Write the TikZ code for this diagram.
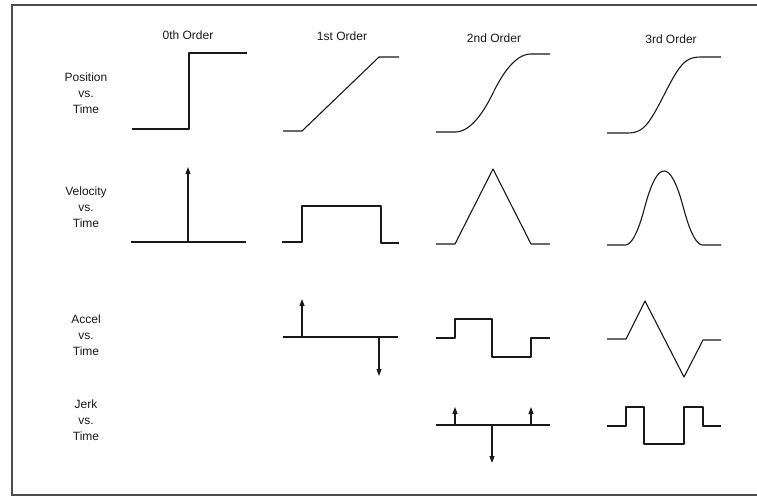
\documentclass[tikz,border=0pt]{standalone}
\usepackage{amsmath}
\usepackage{fontspec}
\setmainfont{Liberation Sans}
\usepackage{tikz}
\usetikzlibrary{arrows.meta}

\begin{document}
\begin{tikzpicture}[x=1pt,y=-1pt,
  curve/.style={line width=1.1,black!90,line join=round},
  rowlab/.style={align=center,font=\fontsize{12}{16}\selectfont,black!90},
  collab/.style={font=\fontsize{12}{14}\selectfont,black!90},
  >={Triangle[length=7,width=5]}]
\useasboundingbox (0,0) rectangle (757,499);
\draw [line width=2][black!70](757,5)--(12,5)--(12,495)--(757,495);
\node (order0) at (188,35) [collab]{0th Order};
\node (order1) at (342,36) [collab]{1st Order};
\node (order2) at (494,38) [collab]{2nd Order};
\node (order3) at (671,39) [collab]{3rd Order};
\node (pos) at (86,93) [rowlab]{Position\\vs.\\Time};
\node (vel) at (86,207) [rowlab]{Velocity\\vs.\\Time};
\node (acc) at (86,335) [rowlab]{Accel\\vs.\\Time};
\node (jerk) at (86,420) [rowlab]{Jerk\\vs.\\Time};
\draw [curve](132,129)--(189,129)--(189,53)--(247,53);
\draw [curve](283,131)--(302,131)--(379,57)--(399,57);
\draw [curve](436,132)--(455,132)--plot[domain=0:0.5,samples=25]({455+76*\x},{132-156*\x*\x})--plot[domain=0.5:1,samples=25]({455+76*\x},{54+156*(1-\x)*(1-\x)})--(550,54);
\draw [curve](607,133)--(625,133)--plot[domain=0:0.25,samples=15]({625+78*\x},{133-405.33*\x*\x*\x})--plot[domain=0.25:0.75,samples=30]({625+78*\x},{133-76*(-5.3333*\x*\x*\x+8*\x*\x-2*\x+0.16667)})--plot[domain=0.75:1,samples=15]({625+78*\x},{57+405.33*(1-\x)*(1-\x)*(1-\x)})--(721,57);
\draw [curve](131,242)--(246,242);
\draw [curve][->](188,242)--(188,167);
\draw [curve](282,242)--(302,242)--(302,206)--(381,206)--(381,243)--(399,243);
\draw [curve](436,244)--(455,244)--(493,169)--(531,244)--(550,244);
\draw [curve](607,245)--(625,245)--plot[domain=0:0.25,samples=15]({625+78*\x},{245-592*\x*\x})--plot[domain=0.25:0.75,samples=30]({625+78*\x},{245-296*(-2*\x*\x+2*\x-0.25)})--plot[domain=0.75:1,samples=15]({625+78*\x},{245-592*(1-\x)*(1-\x)})--(721,245);
\draw [curve](283,337)--(398,337);
\draw [curve][->](302,337)--(302,299);
\draw [curve][->](379,337)--(379,376);
\draw [curve](436,338)--(455,338)--(455,319)--(492,319)--(492,357)--(531,357)--(531,338)--(550,338);
\draw [curve](607,339)--(626,339)--(645,301)--(684,377)--(703,340)--(721,340);
\draw [curve](436,425)--(550,425);
\draw [curve][->](455,425)--(455,407);
\draw [curve][->](492,425)--(492,463);
\draw [curve][->](531,425)--(531,407);
\draw [curve](607,426)--(626,426)--(626,407)--(644,407)--(644,444)--(684,444)--(684,407)--(703,407)--(703,426)--(721,426);
\end{tikzpicture}
\end{document}
